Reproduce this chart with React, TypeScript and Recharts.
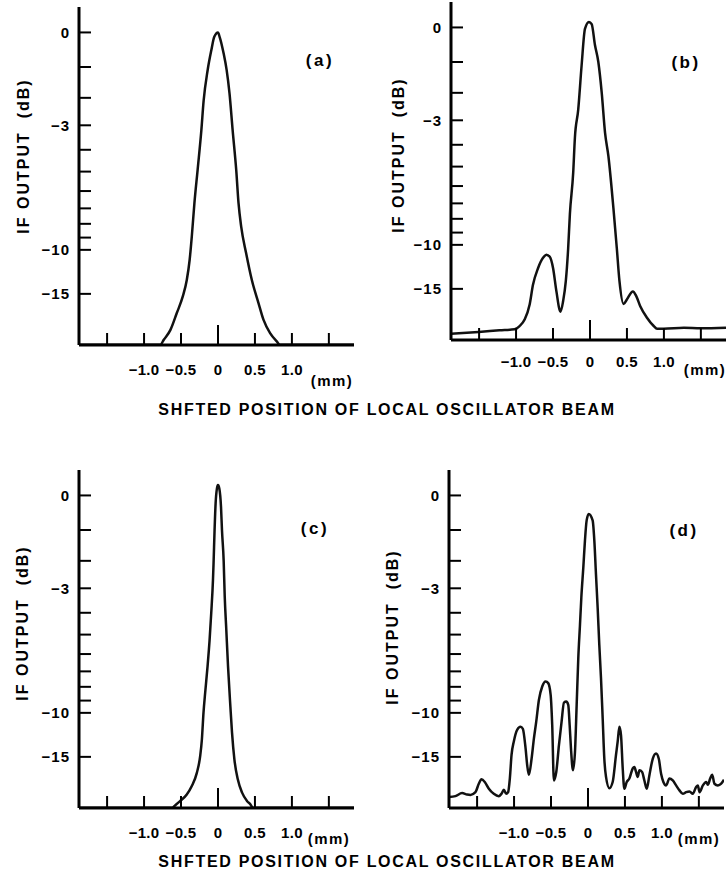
import React from "react";
import { LineChart, Line, XAxis, YAxis } from "recharts";

// shifted position of the LO beam (mm) and IF output (dB)
const shiftA = [-1.88, -0.78, -0.733, -0.643, -0.557, -0.476, -0.422, -0.383, -0.354, -0.319, -0.275, -0.225, -0.194, -0.14, -0.09, -0.05, 0, 0.022, 0.076, 0.117, 0.156, 0.198, 0.247, 0.278, 0.314, 0.381, 0.458, 0.547, 0.615, 0.705, 0.795, 0.84, 1.84];
const ifDbA = [-35, -35, -29.5, -23.8, -18.6, -15.4, -13.1, -10.9, -8.9, -6.7, -4.9, -3.2, -2.1, -1.1, -0.5, -0.12, 0, -0.12, -0.59, -1.09, -1.85, -3.18, -4.93, -6.69, -8.2, -10.3, -13.1, -16.5, -20.3, -25.3, -31, -35, -35];

const shiftB = [-1.88, -1.506, -1.224, -1.02, -0.952, -0.884, -0.816, -0.771, -0.703, -0.635, -0.59, -0.544, -0.499, -0.454, -0.399, -0.363, -0.327, -0.295, -0.272, -0.227, -0.204, -0.159, -0.113, -0.068, -0.014, 0.023, 0.068, 0.113, 0.159, 0.204, 0.249, 0.317, 0.363, 0.399, 0.454, 0.499, 0.581, 0.626, 0.68, 0.771, 0.862, 0.907, 0.998, 1.27, 1.497, 1.84];
const ifDbB = [-28.7, -27.5, -26.5, -25.9, -24.3, -21.8, -17.8, -14.4, -12.3, -11.2, -10.9, -11.1, -12.3, -15.4, -19.5, -17.1, -13.9, -10.3, -7.7, -5.3, -3.7, -2.6, -1.1, -0.04, 0.15, 0.09, -0.5, -1.0, -2.0, -3.5, -4.5, -7.3, -10.3, -13.9, -17.7, -16.8, -15.4, -16.2, -18.2, -21.2, -24.3, -25.6, -25.6, -25.1, -25.4, -25.1];

const shiftC = [-1.88, -0.62, -0.581, -0.513, -0.422, -0.354, -0.286, -0.241, -0.218, -0.196, -0.173, -0.141, -0.114, -0.091, -0.068, -0.06, -0.046, -0.032, -0.014, 0, 0.018, 0.041, 0.054, 0.077, 0.091, 0.113, 0.136, 0.168, 0.19, 0.222, 0.268, 0.326, 0.395, 0.44, 0.47, 1.84];
const ifDbC = [-35, -35, -32, -28.3, -24.5, -21.3, -17.9, -14.9, -12.7, -10.0, -8.4, -6.7, -5.3, -4.0, -2.7, -2.1, -1.0, -0.22, 0.19, 0.28, 0.19, -0.32, -1.0, -2.0, -3.3, -4.8, -6.7, -9.5, -11.9, -15.4, -19.4, -23.7, -28.3, -31, -35, -35];

const shiftD = [-1.88, -1.793, -1.703, -1.636, -1.59, -1.522, -1.477, -1.441, -1.396, -1.341, -1.274, -1.206, -1.17, -1.138, -1.107, -1.08, -1.057, -1.034, -1.003, -0.958, -0.912, -0.881, -0.844, -0.822, -0.799, -0.763, -0.732, -0.7, -0.664, -0.619, -0.573, -0.538, -0.505, -0.484, -0.461, -0.429, -0.393, -0.357, -0.325, -0.294, -0.267, -0.248, -0.23, -0.203, -0.176, -0.153, -0.131, -0.108, -0.09, -0.063, -0.041, -0.018, 0.01, 0.063, 0.086, 0.108, 0.131, 0.153, 0.176, 0.199, 0.221, 0.244, 0.289, 0.334, 0.379, 0.402, 0.425, 0.447, 0.47, 0.492, 0.524, 0.56, 0.605, 0.628, 0.65, 0.673, 0.696, 0.732, 0.763, 0.795, 0.831, 0.876, 0.921, 0.958, 0.989, 1.02, 1.057, 1.102, 1.147, 1.192, 1.238, 1.283, 1.328, 1.373, 1.418, 1.463, 1.486, 1.509, 1.554, 1.599, 1.621, 1.653, 1.68, 1.711, 1.757, 1.802, 1.84];
const ifDbD = [-25.8, -25.3, -23.9, -24.5, -24.7, -23.5, -20.6, -19.4, -20.1, -22.2, -24.2, -25.3, -24.2, -22.6, -24.2, -23.5, -19.2, -14.7, -12.9, -11.6, -11.3, -11.5, -13.8, -16.4, -18.3, -15.3, -12.6, -10.8, -8.95, -7.98, -7.64, -7.75, -8.57, -11.1, -19.7, -17.7, -13.4, -10.8, -9.16, -9.08, -9.34, -11.1, -13.8, -17.35, -14.3, -9.34, -6.22, -4.52, -3.37, -2.23, -1.33, -0.71, -0.52, -0.71, -1.33, -2.47, -3.79, -5.5, -7.42, -10.5, -15.3, -18.8, -22.0, -20.1, -14.7, -12.9, -11.3, -12.2, -17.0, -22.2, -20.1, -19.2, -17.0, -16.7, -17.7, -18.8, -17.35, -17.7, -19.7, -22.2, -18.4, -15.3, -14.5, -15.3, -18.1, -20.1, -21.1, -19.2, -19.7, -21.1, -22.8, -24.2, -23.5, -23.2, -24.2, -21.6, -21.1, -23.5, -21.1, -20.1, -20.9, -19.2, -18.3, -20.6, -21.1, -20.6, -19.5];

const yTicksDb = [0, -1, -2, -3, -4, -5, -6, -7, -8, -9, -10, -15];
const yLabelsDb = [0, -3, -10, -15];
const xTicksMm = [-1.5, -1, -0.5, 0, 0.5, 1, 1.5];
const xLabelsMm = [-1, -0.5, 0, 0.5, 1];

// the axis is linear in field amplitude, labelled in dB
const toAmp = (db: number) => Math.pow(10, db / 20);

const FONT = '"Liberation Sans", Arial, Helvetica, sans-serif';
const X_DOMAIN: [number, number] = [-1.88, 1.84];
const AMP_DOMAIN: [number, number] = [0.017, 1.08];
const PLOT_W = 275;
const PLOT_H = 338;
const Y_W = 70;
const M_TOP = 10;
const X_H = 45;

const minus = (s: string) => s.replace("-", "\u2212");

function YTick({ x, y, payload }: any) {
  const db = Math.round(20 * Math.log10(payload.value));
  return (
    <g>
      <line x1={x} x2={x + 12} y1={y} y2={y} stroke="#000" strokeWidth={2} />
      {yLabelsDb.includes(db) && (
        <text x={x - 9} y={y} dy="0.36em" textAnchor="end" fontFamily={FONT} fontWeight={700} fontSize={15} letterSpacing={1} fill="#000">
          {minus(String(db))}
        </text>
      )}
    </g>
  );
}

function XTick({ x, y, payload, off }: any) {
  const v = payload.value;
  const show = xLabelsMm.includes(v);
  const txt = v === 0 ? "0" : minus(v.toFixed(1));
  return (
    <g>
      <line x1={x} x2={x} y1={y} y2={y - (v === 0 ? 20 : 12)} stroke="#000" strokeWidth={2} />
      {show && (
        <text x={x} y={y + off} dy="0.36em" textAnchor="middle" fontFamily={FONT} fontWeight={700} fontSize={15} letterSpacing={0.3} fill="#000">
          {txt}
        </text>
      )}
    </g>
  );
}

const panels = [
  { tag: "(a)", xs: shiftA, dbs: ifDbA, left: 78.6, top: 6.8, off: 25, yLab: [24, 156], tagPos: [320, 60], mm: [332, 380] },
  { tag: "(b)", xs: shiftB, dbs: ifDbB, left: 450.9, top: 1.7, off: 22, yLab: [399, 155], tagPos: [686, 62], mm: [705, 369] },
  { tag: "(c)", xs: shiftC, dbs: ifDbC, left: 78.6, top: 469.8, off: 25, yLab: [23, 623], tagPos: [315, 528], mm: [329, 838] },
  { tag: "(d)", xs: shiftD, dbs: ifDbD, left: 448.9, top: 469.5, off: 25, yLab: [393, 627], tagPos: [684, 530], mm: [699, 838] },
];

const txtStyle = (cx: number, cy: number, size: number, spacing: number, rotate = false): React.CSSProperties => ({
  position: "absolute",
  left: cx,
  top: cy,
  transform: `translate(-50%, -50%)${rotate ? " rotate(-90deg)" : ""}`,
  fontFamily: FONT,
  fontWeight: 700,
  fontSize: size,
  letterSpacing: spacing,
  whiteSpace: "nowrap",
  lineHeight: 1,
  color: "#000",
});

function Panel({ p }: { p: (typeof panels)[number] }) {
  const data = p.xs.map((x, i) => ({ x, amp: toAmp(p.dbs[i]) }));
  return (
    <div style={{ position: "absolute", left: p.left - Y_W, top: p.top - M_TOP }}>
      <LineChart width={Y_W + PLOT_W + 10} height={M_TOP + PLOT_H + X_H} data={data} margin={{ top: M_TOP, right: 10, left: 0, bottom: 0 }}>
        <XAxis
          dataKey="x"
          type="number"
          domain={X_DOMAIN}
          allowDataOverflow
          ticks={xTicksMm}
          interval={0}
          height={X_H}
          tickSize={0}
          tickMargin={0}
          tickLine={false}
          axisLine={{ stroke: "#000", strokeWidth: 3 }}
          tick={(props: any) => <XTick {...props} off={p.off} />}
        />
        <YAxis
          type="number"
          domain={AMP_DOMAIN}
          allowDataOverflow
          ticks={yTicksDb.map(toAmp)}
          interval={0}
          width={Y_W}
          tickSize={0}
          tickMargin={0}
          tickLine={false}
          axisLine={{ stroke: "#000", strokeWidth: 3 }}
          tick={(props: any) => <YTick {...props} />}
        />
        <Line type="monotone" dataKey="amp" stroke="#111" strokeWidth={2.5} dot={false} isAnimationActive={false} />
      </LineChart>
    </div>
  );
}

export default function App() {
  return (
    <div style={{ position: "absolute", left: 0, top: 0, width: 726, height: 880, overflow: "hidden", background: "#fff" }}>
      {panels.map((p) => (
        <Panel key={p.tag} p={p} />
      ))}
      {panels.map((p) => (
        <React.Fragment key={p.tag + "-txt"}>
          <div style={txtStyle(p.yLab[0], p.yLab[1], 16, 2, true)}>IF OUTPUT&nbsp;&nbsp;(dB)</div>
          <div style={txtStyle(p.tagPos[0], p.tagPos[1], 17, 2.5)}>{p.tag}</div>
          <div style={txtStyle(p.mm[0], p.mm[1], 15, 1.5)}>(mm)</div>
        </React.Fragment>
      ))}
      <div style={txtStyle(387, 410, 16, 1.7)}>SHFTED POSITION OF LOCAL OSCILLATOR BEAM</div>
      <div style={txtStyle(387, 862, 16, 1.7)}>SHFTED POSITION OF LOCAL OSCILLATOR BEAM</div>
    </div>
  );
}
